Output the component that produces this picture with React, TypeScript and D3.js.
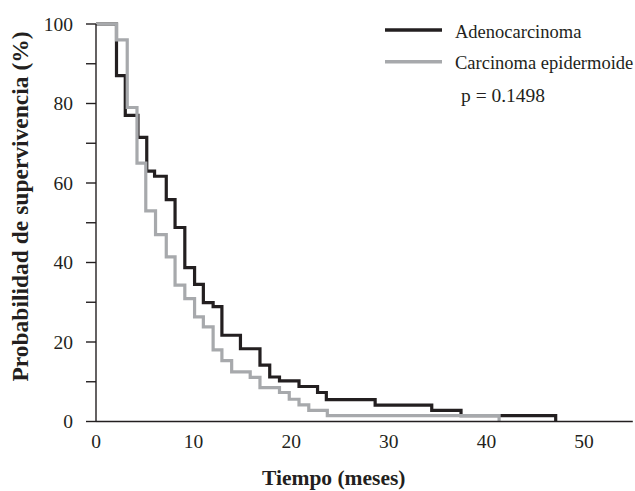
import React from "react";
import * as d3 from "d3";

const adenoTimes = [0, 2.1, 3.0, 4.3, 5.2, 6.0, 7.2, 8.1, 9.1, 10.1, 11.0, 12.0, 12.9, 14.8, 16.8, 17.8, 18.8, 20.8, 22.7, 23.6, 28.6, 34.4, 37.4, 47.1];
const adenoSurv = [100, 87, 77, 71.5, 63, 61.7, 55.8, 48.8, 38.7, 34.5, 29.9, 28.9, 21.7, 18.3, 14.2, 11.2, 10.2, 8.8, 7.3, 5.5, 4.1, 2.8, 1.5, 0];

const epiTimes = [0, 2.1, 3.2, 4.2, 5.1, 6.1, 7.2, 8.1, 9.1, 10.1, 11.0, 12.0, 12.9, 13.9, 15.8, 16.8, 18.8, 19.8, 20.8, 21.8, 23.7, 41.3];
const epiSurv = [100, 96, 79, 65, 53, 47, 41.4, 34.3, 30.9, 26.3, 23.8, 18, 15.3, 12.5, 11.1, 8.5, 7.3, 5.6, 4.2, 2.8, 1.5, 0];

const yTicks = [0, 10, 20, 30, 40, 50, 60, 70, 80, 90, 100];
const yLabels = [0, 20, 40, 60, 80, 100];
const xLabels = [0, 10, 20, 30, 40, 50];
const seriesNames = ["Adenocarcinoma", "Carcinoma epidermoide"];
const pText = "p = 0.1498";

const BLACK = "#231f20";
const GRAY = "#a7a9ac";

export default function App() {
  const x = d3.scaleLinear().domain([0, 55]).range([96, 632.8]);
  const y = d3.scaleLinear().domain([0, 100]).range([421.5, 24]);
  const line = d3
    .line<[number, number]>()
    .x((d) => x(d[0]))
    .y((d) => y(d[1]))
    .curve(d3.curveStepAfter);
  const adeno = adenoTimes.map((t, i) => [t, adenoSurv[i]] as [number, number]);
  const epi = epiTimes.map((t, i) => [t, epiSurv[i]] as [number, number]);
  const font = "'Liberation Serif', 'Times New Roman', serif";

  return (
    <svg
      width={635}
      height={491}
      style={{ position: "absolute", left: 0, top: 0, background: "#fff" }}
      fontFamily={font}
    >
      {/* curves */}
      <path d={line(adeno) || ""} fill="none" stroke={BLACK} strokeWidth={3.2} />
      <path d={line(epi) || ""} fill="none" stroke={GRAY} strokeWidth={3.2} />

      {/* axes */}
      <line x1={x(0)} x2={x(0)} y1={y(100)} y2={y(0)} stroke={BLACK} strokeWidth={1.4} />
      <line x1={x(0)} x2={x(55)} y1={y(0)} y2={y(0)} stroke={BLACK} strokeWidth={1.4} />
      {yTicks.map((t) => (
        <line key={t} x1={x(0) - 10} x2={x(0)} y1={y(t)} y2={y(t)} stroke={BLACK} strokeWidth={1.4} />
      ))}
      {yLabels.map((t) => (
        <text key={t} x={73} y={y(t) + 6.7} textAnchor="end" fontSize={19.5} fill={BLACK}>
          {t}
        </text>
      ))}
      {xLabels.map((t) => (
        <text key={t} x={x(t)} y={448} textAnchor="middle" fontSize={19.5} fill={BLACK}>
          {t}
        </text>
      ))}
      <text x={262} y={485} textAnchor="start" fontSize={21.5} fontWeight="bold" fill={BLACK}>
        Tiempo (meses)
      </text>
      <text
        transform={`translate(28,206.5) rotate(-90)`}
        textAnchor="middle"
        fontSize={23.5}
        fontWeight="bold"
        fill={BLACK}
      >
        Probabilidad de supervivencia (%)
      </text>

      {/* legend */}
      <line x1={385} x2={442} y1={30} y2={30} stroke={BLACK} strokeWidth={3.6} />
      <line x1={385} x2={442} y1={61.7} y2={61.7} stroke={GRAY} strokeWidth={3.6} />
      <text x={455} y={37.7} fontSize={18.5} fill={BLACK}>{seriesNames[0]}</text>
      <text x={455} y={69.3} fontSize={18.5} fill={BLACK}>{seriesNames[1]}</text>
      <text x={461} y={101.5} fontSize={19.5} fill={BLACK}>{pText}</text>
    </svg>
  );
}
